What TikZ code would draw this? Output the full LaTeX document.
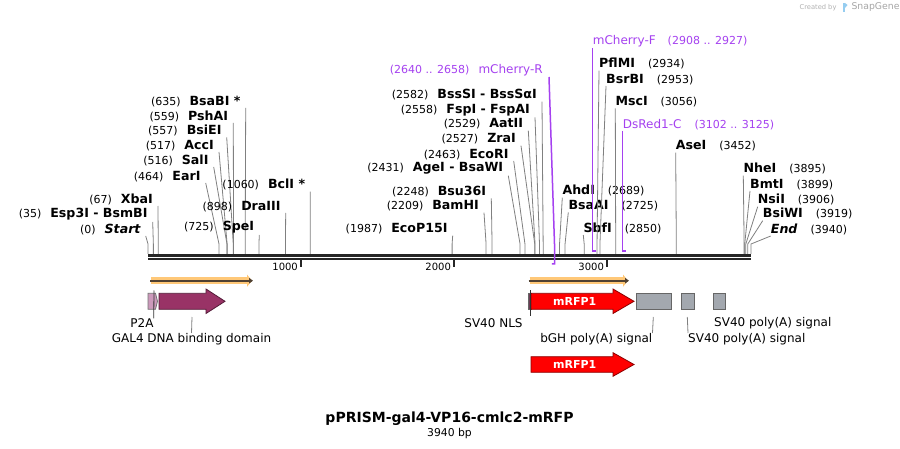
\documentclass[tikz,border=0pt]{standalone}
\usepackage{fontspec}
\setmainfont{DejaVu Sans}
\usepackage{xcolor}
\usepackage{tikz}
\usetikzlibrary{arrows.meta}

\definecolor{sitegray}{RGB}{128,128,128}
\definecolor{primerpurple}{RGB}{165,65,240}
\definecolor{gal4col}{RGB}{153,51,102}
\definecolor{p2acol}{RGB}{204,153,187}
\definecolor{nlscol}{RGB}{110,60,85}
\definecolor{polyacol}{RGB}{163,168,175}
\definecolor{orfglow}{RGB}{255,200,120}
\definecolor{orfline}{RGB}{80,65,50}
\definecolor{logoblue}{RGB}{150,205,240}

\newcommand{\enz}[1]{{\fontsize{12.6}{14}\selectfont\bfseries #1}}

\begin{document}
\begin{tikzpicture}[x=1pt, y=-1pt,
    leftsite/.style={anchor=south east, inner xsep=5pt, inner ysep=1.2pt, font=\fontsize{11}{13}\selectfont},
    rightsite/.style={anchor=south west, inner xsep=0pt, inner ysep=1.2pt, font=\fontsize{11}{13}\selectfont},
    cutline/.style={draw=sitegray, line width=0.8pt},
    primer/.style={draw=primerpurple, line width=1.5pt},
    primerlabel/.style={text=primerpurple, inner ysep=1.2pt, font=\fontsize{11}{13}\selectfont},
    featlabel/.style={inner sep=0pt, font=\fontsize{12}{14}\selectfont},
    leader/.style={draw=sitegray, line width=0.8pt},
    orfbox/.style={fill=red, draw=red!55!black, line width=0.8pt},
    polyabox/.style={fill=polyacol, draw=black!60, line width=0.8pt}]
    \useasboundingbox (0,0) rectangle (900,449);
    \fill[white] (0,0) rectangle (900,449);

    % backbone and ticks
    \draw[black!85, line width=2.2pt] (148,255.6) -- (751,255.6);
    \draw[black!85, line width=2.2pt] (148,259.4) -- (751,259.4);
    \foreach \t in {1000,2000,3000} {
        \coordinate (T\t) at ({148+0.15305*\t},260.5);
        \draw[black!85, line width=2pt] (T\t) -- ++(0,7);
        \node[anchor=east, inner xsep=3pt, font=\fontsize{10}{12}\selectfont] (TL\t) at ({148+0.15305*\t},267) {\t};
    }

    % sites, label left of the line
    \foreach \bp/\nm/\lx/\ly in {0/{\itshape Start}/145.7/236, 35/Esp3I - BsmBI/152.7/222, 67/XbaI/158/206,
        464/EarI/205.7/183, 516/SalI/213.7/167, 517/AccI/219/152, 557/BsiEI/226.7/137.3,
        559/PshAI/233.3/123, 635/BsaBI */245.7/108, 725/SpeI/259.3/235, 898/DraIII/285.7/213,
        1060/BclI */310.3/191.7, 1987/EcoP15I/452.7/235.7, 2209/BamHI/484/212.7, 2248/Bsu36I/491.3/198.3,
        2431/AgeI - BsaWI/508.3/175.7, 2463/EcoRI/513.7/161, 2527/ZraI/521/145.7, 2529/AatII/528.3/130.7,
        2558/FspI - FspAI/535/117.3, 2582/BssSI - BssSαI/542/101.7} {
        \coordinate (S\bp) at ({148+0.15305*\bp},254);
        \node[leftsite] (L\bp) at (\lx,\ly) {(\bp)\hspace{9pt}\enz{\nm}};
        \draw[cutline] (L\bp.south east) -- ([yshift=10pt]S\bp) -- (S\bp);
    }

    % sites, label right of the line
    \foreach \bp/\nm/\lx/\ly in {2689/AhdI/562.3/197.7, 2725/BsaAI/568.3/212.3, 2850/SbfI/583.3/235,
        2934/PflMI/599/70.7, 2953/BsrBI/606/86, 3056/MscI/615.3/108.3, 3452/AseI/675.7/152.7,
        3895/NheI/743.3/175.7, 3899/BmtI/750/191, 3906/NsiI/757.7/206.7, 3919/BsiWI/762.7/220.7,
        3940/{\itshape End}/770.7/236} {
        \coordinate (S\bp) at ({148+0.15305*\bp},254);
        \node[rightsite] (R\bp) at (\lx,\ly) {\enz{\nm}\hspace{13pt}(\bp)};
        \draw[cutline] (R\bp.south west) -- ([yshift=10pt]S\bp) -- (S\bp);
    }

    % primers
    \node[primerlabel, anchor=south east, inner xsep=6pt] (mchR) at (549,77)
        {(2640 .. 2658)\hspace{9pt}{\fontsize{12}{14}\selectfont mCherry-R}};
    \coordinate (mchRa) at (554.7,250);
    \coordinate (mchRb) at (554.7,264);
    \coordinate (mchRc) at (551.9,264);
    \draw[primer] (mchR.south east) -- (mchRa) -- (mchRb) -- (mchRc);

    \node[primerlabel, anchor=south west, inner xsep=0pt] (mchF) at (592.7,48)
        {{\fontsize{12}{14}\selectfont mCherry-F}\hspace{12pt}(2908 .. 2927)};
    \coordinate (mchFa) at (592.7,251);
    \coordinate (mchFb) at (595.8,251);
    \draw[primer] (mchF.south west) -- (mchFa) -- (mchFb);

    \node[primerlabel, anchor=south west, inner xsep=0pt] (dsred) at (622.7,131)
        {{\fontsize{12}{14}\selectfont DsRed1-C}\hspace{13pt}(3102 .. 3125)};
    \coordinate (dsreda) at (622.7,251);
    \coordinate (dsredb) at (626,251);
    \draw[primer] (dsred.south west) -- (dsreda) -- (dsredb);

    % ORF arrows
    \draw[orfglow, line width=6.5pt, -{Triangle[length=5pt,width=12pt]}] (151,280.7) -- (252,280.7);
    \draw[orfline, line width=1.8pt, -{Triangle[length=4pt,width=5.5pt]}] (150,280.7) -- (253,280.7);
    \draw[orfglow, line width=6.5pt, -{Triangle[length=5pt,width=12pt]}] (529.5,280.7) -- (628,280.7);
    \draw[orfline, line width=1.8pt, -{Triangle[length=4pt,width=5.5pt]}] (528.5,280.7) -- (629,280.7);

    % features
    \filldraw[fill=p2acol, draw=black!55, line width=0.8pt] (148,293.3) -- (155.5,293.3) -- (157.5,301.3)
        -- (155.5,309.3) -- (148,309.3) -- cycle;
    \filldraw[fill=gal4col, draw=gal4col!55!black, line width=0.8pt] (159,293.3) -- (206,293.3) -- (206,289)
        -- (225,301.3) -- (206,313.5) -- (206,309.3) -- (159,309.3) -- cycle;
    \filldraw[fill=nlscol, draw=black!60, line width=0.6pt] (528,293.3) rectangle (531,309.3);
    \filldraw[orfbox] (531,293.3) -- (613,293.3) -- (613,289) -- (634,301.3) -- (613,313.5)
        -- (613,309.3) -- (531,309.3) -- cycle;
    \node[text=white, font=\fontsize{11}{12}\selectfont\bfseries] (mrfpa) at (574.7,301.3) {mRFP1};
    \filldraw[polyabox] (636,293.3) rectangle (671.7,309.3);
    \filldraw[polyabox] (681,293.3) rectangle (694.7,309.3);
    \filldraw[polyabox] (713,293.3) rectangle (725.3,309.3);
    \filldraw[orfbox] (531,356.7) -- (613,356.7) -- (613,352.7) -- (634,364.5) -- (613,376.3)
        -- (613,372.3) -- (531,372.3) -- cycle;
    \node[text=white, font=\fontsize{11}{12}\selectfont\bfseries] (mrfpb) at (574.7,364.5) {mRFP1};

    % feature labels
    \node[featlabel] (p2a) at (142,323) {P2A};
    \coordinate (p2at) at (154,290.5);
    \draw[black!80, line width=0.8pt] (p2at) -- (p2a.north east);
    \node[featlabel] (gal4) at (191.5,339) {GAL4 DNA binding domain};
    \coordinate (gal4t) at (192,317);
    \draw[leader] (gal4t) -- (gal4.north);
    \node[featlabel] (nls) at (493.5,323) {SV40 NLS};
    \coordinate (nlst) at (530.3,290.5);
    \coordinate (nlsb) at (530.3,316);
    \draw[black!80, line width=0.8pt] (nlst) -- (nlsb);
    \node[featlabel, anchor=north east] (bgh) at (652.5,333) {bGH poly(A) signal};
    \coordinate (bght) at (653.3,317);
    \draw[leader] (bght) -- (bgh.north east);
    \node[featlabel, anchor=north west] (sva) at (688,333) {SV40 poly(A) signal};
    \coordinate (svat) at (687.3,317);
    \draw[leader] (svat) -- (sva.north west);
    \node[featlabel, anchor=west] (svb) at (714,323) {SV40 poly(A) signal};

    % title
    \node[font=\fontsize{14}{16}\selectfont\bfseries] (title) at (449.5,419) {pPRISM-gal4-VP16-cmlc2-mRFP};
    \node[font=\fontsize{10.8}{12}\selectfont] (size) at (449.5,433.5) {3940 bp};

    % credit
    \node[text=black!30, font=\fontsize{6.7}{8}\selectfont, anchor=east] (made) at (840,7.5) {Created by};
    \fill[logoblue] (842.5,3) rectangle (845,12.5);
    \fill[logoblue] (845,3) -- (847.5,5) -- (845,8) -- cycle;
    \node[text=black!35, font=\fontsize{9.3}{11}\selectfont, anchor=west] (snap) at (848,7.5) {SnapGene};
\end{tikzpicture}
\end{document}
